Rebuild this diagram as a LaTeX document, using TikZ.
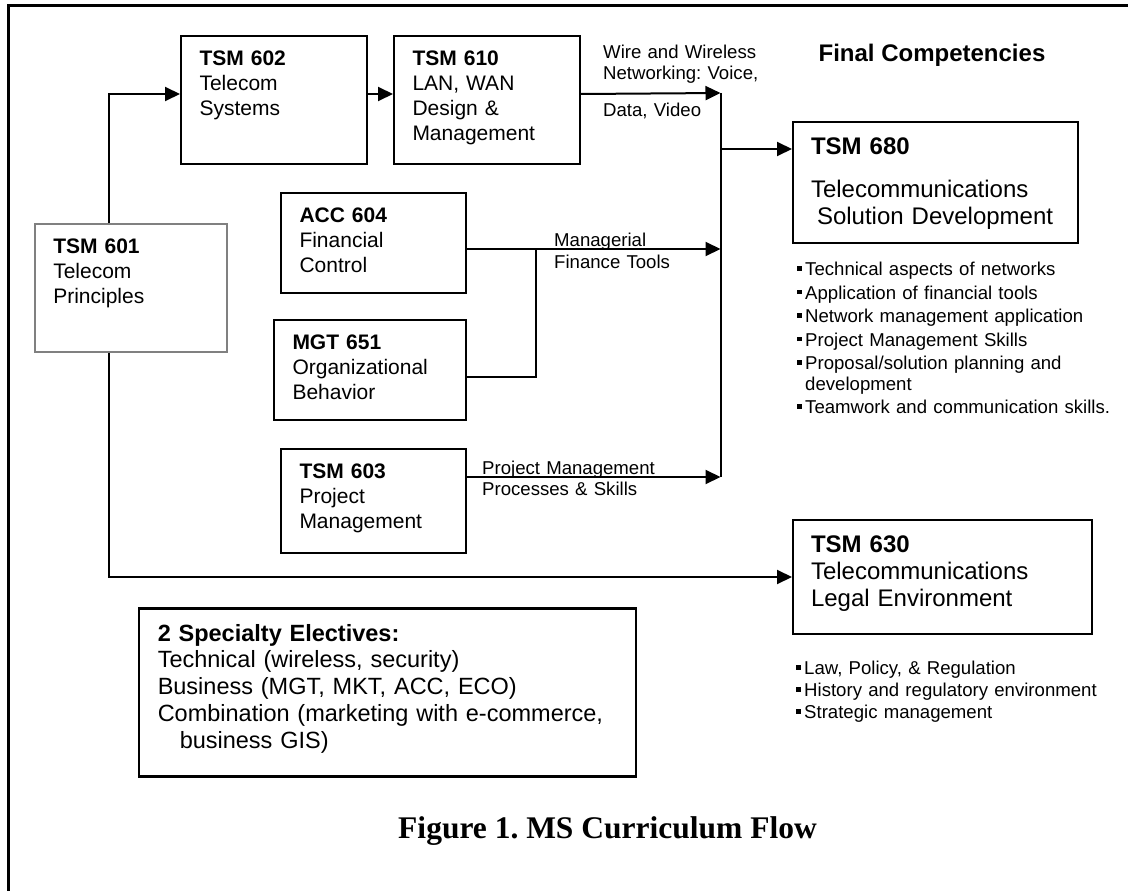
\documentclass[tikz,border=0pt]{standalone}
\usepackage{fontspec}
\setmainfont{Liberation Sans}
\newfontfamily\captionserif{Liberation Serif}
\usepackage{tikz}
\usetikzlibrary{arrows.meta}
\frenchspacing
\tikzstyle{course} = [draw, line width=2pt, anchor=north west, align=left, inner xsep=18.5pt, inner ysep=0pt, text height=29.5pt, font=\fontsize{21}{25}\selectfont]
\tikzstyle{goal} = [draw, line width=2pt, anchor=north west, align=left, inner xsep=18pt, inner ysep=0pt, text height=32.6pt, font=\fontsize{24}{27}\selectfont]
\tikzstyle{elective} = [draw, line width=2.5pt, anchor=north west, align=left, inner xsep=19pt, inner ysep=0pt, text height=33pt, font=\fontsize{23.5}{26.7}\selectfont]
\tikzstyle{tag} = [anchor=base west, inner sep=0pt, align=left, text width=200pt, font=\fontsize{18.6}{21}\selectfont]
\tikzstyle{points} = [anchor=base west, inner sep=0pt, align=left, text width=330pt, font=\fontsize{18.6}{20.5}\selectfont]
\tikzstyle{flow} = [line width=2pt, -{Triangle[length=15pt,width=14pt]}]
\tikzstyle{wire} = [line width=2pt]
\newcommand{\sqbullet}{\rule[5pt]{4.5pt}{4.5pt}\hspace{3.5pt}}

\begin{document}
\begin{tikzpicture}[x=1pt, y=-1pt]
	\useasboundingbox (0,0) rectangle (1128,891);
	\draw[line width=3pt] (8,891) -- (8,6) -- (1128,6);

	% courses
	\node[course, draw=gray, line width=1.5pt, text width=155pt, text depth=98.5pt] (n601) at (34,223)
		{\textbf{TSM 601}\\Telecom\\Principles};
	\node[course, text width=149pt, text depth=98.5pt] (n602) at (180,35)
		{\textbf{TSM 602}\\Telecom\\Systems};
	\node[course, text width=149pt, text depth=98.5pt] (n610) at (393,35)
		{\textbf{TSM 610}\\LAN, WAN\\Design \&\\Management};
	\node[course, text width=148pt, text depth=70.5pt] (n604) at (280,192)
		{\textbf{ACC 604}\\Financial\\Control};
	\node[course, text width=155pt, text depth=70.5pt] (n651) at (273,319)
		{\textbf{MGT 651}\\Organizational\\Behavior};
	\node[course, text width=148pt, text depth=74.5pt] (n603) at (280,448)
		{\textbf{TSM 603}\\Project\\Management};

	% final competencies
	\node[anchor=base, font=\bfseries\fontsize{24}{28}\selectfont] (finalhead) at (932,61.5) {Final Competencies};
	\node[goal, text width=249pt, text depth=88.4pt] (n680) at (792,121)
		{\textbf{TSM 680}\\[16pt]Telecommunications\\\hspace*{6pt}Solution Development};
	\node[goal, text width=263pt, text depth=81.4pt] (n630) at (792,519)
		{\textbf{TSM 630}\\Telecommunications\\Legal Environment};
	\node[points] (skills680) at (797,275.7)
		{\sqbullet Technical aspects of networks\\[3pt]
		 \sqbullet Application of financial tools\\[3pt]
		 \sqbullet Network management application\\[3pt]
		 \sqbullet Project Management Skills\\[3pt]
		 \sqbullet Proposal/solution planning and\\\hspace*{8pt}development\\[3pt]
		 \sqbullet Teamwork and communication skills.};
	\node[points] (skills630) at (796,674.7)
		{\sqbullet Law, Policy, \& Regulation\\[1.5pt]
		 \sqbullet History and regulatory environment\\[1.5pt]
		 \sqbullet Strategic management};

	\node[elective, text width=459pt, text depth=135pt] (electives) at (137.5,607)
		{\textbf{2 Specialty Electives:}\\Technical (wireless, security)\\Business (MGT, MKT, ACC, ECO)\\Combination (marketing with e-commerce,\\\hspace*{22pt}business GIS)};

	% labels on the flows
	\node[tag] (lwire) at (603,58.7) {Wire and Wireless\\Networking: Voice,};
	\node[tag] (lvideo) at (603,116.7) {Data, Video};
	\node[tag, font=\fontsize{18.6}{22}\selectfont] (lfinance) at (554,246.7) {Managerial\\Finance Tools};
	\node[tag] (lproject) at (482,474.7) {Project Management\\Processes \& Skills};

	\node[anchor=base, font=\captionserif\bfseries\fontsize{31.5}{36}\selectfont] (caption) at (607.5,838) {Figure 1. MS Curriculum Flow};

	% connectors
	\coordinate (bustop) at (720.5,93);
	\coordinate (busmid) at (720.5,149);
	\coordinate (fintip) at (720.5,249);
	\coordinate (busbot) at (720.5,477);
	\coordinate (finjoin) at (536,249);
	\coordinate (mgtjoin) at (536,377);

	\draw[flow] ([xshift=75pt]n601.north west) |- ([yshift=6pt]n602.west);
	\draw[flow] ([yshift=6pt]n602.east) -- ([yshift=6pt]n610.west);
	\draw[flow] ([yshift=6pt]n610.east) -- (bustop);
	\draw[wire] (bustop) -- (busbot);
	\draw[flow] (busmid) -- (busmid -| n680.west);
	\draw[flow] (n604.east |- fintip) -- (fintip);
	\draw[wire] (n651.east |- mgtjoin) -- (mgtjoin) -- (finjoin);
	\draw[flow] (n603.east |- busbot) -- (busbot);
	\draw[flow] ([xshift=75pt]n601.south west) |- (n630.west);
\end{tikzpicture}
\end{document}
